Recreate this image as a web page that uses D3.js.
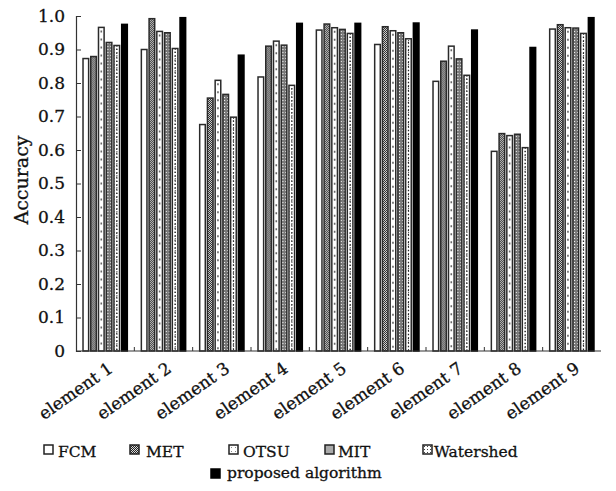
<!DOCTYPE html>
<html><head><meta charset="utf-8">
<script src="https://cdn.jsdelivr.net/npm/d3@7/dist/d3.min.js"></script>
<style>
body{margin:0;background:#fff;}
text{font-family:"DejaVu Serif",serif;fill:#111;stroke:#111;stroke-width:0.3px;}
</style></head>
<body><svg id="c" width="616" height="491"></svg>
<script>
const categories = ["element 1","element 2","element 3","element 4","element 5","element 6","element 7","element 8","element 9"];
const seriesNames = ["FCM","MET","OTSU","MIT","Watershed","proposed algorithm"];
const FCM       = [0.873,0.900,0.676,0.818,0.958,0.915,0.805,0.596,0.961];
const MET       = [0.879,0.992,0.755,0.910,0.976,0.968,0.865,0.649,0.974];
const OTSU      = [0.966,0.954,0.808,0.925,0.965,0.956,0.910,0.643,0.965];
const MIT       = [0.921,0.950,0.766,0.913,0.960,0.950,0.872,0.647,0.964];
const Watershed = [0.912,0.903,0.698,0.793,0.948,0.932,0.823,0.607,0.948];
const Proposed  = [0.975,0.995,0.883,0.978,0.978,0.979,0.958,0.906,0.995];
const yTicks = [0,0.1,0.2,0.3,0.4,0.5,0.6,0.7,0.8,0.9,1.0];
const seriesValues = [FCM,MET,OTSU,MIT,Watershed,Proposed];

const svg = d3.select("#c");
const defs = svg.append("defs");
const pMet = defs.append("pattern").attr("id","pMet").attr("patternUnits","userSpaceOnUse").attr("width",2).attr("height",2);
pMet.append("rect").attr("width",2).attr("height",2).attr("fill","#ddd");
pMet.append("rect").attr("width",1).attr("height",1).attr("fill","#222");
pMet.append("rect").attr("x",1).attr("y",1).attr("width",1).attr("height",1).attr("fill","#222");
const pMit = defs.append("pattern").attr("id","pMit").attr("patternUnits","userSpaceOnUse").attr("width",3).attr("height",3);
pMit.append("rect").attr("width",3).attr("height",3).attr("fill","#7a7a7a");
pMit.append("rect").attr("x",1).attr("y",1).attr("width",1).attr("height",1).attr("fill","#fff");
const pWs = defs.append("pattern").attr("id","pWs").attr("patternUnits","userSpaceOnUse").attr("width",3).attr("height",3);
pWs.append("rect").attr("width",3).attr("height",3).attr("fill","#fff");
pWs.append("rect").attr("x",1).attr("y",1).attr("width",1).attr("height",1).attr("fill","#444");
const pOt = defs.append("pattern").attr("id","pOt").attr("patternUnits","userSpaceOnUse").attr("width",4).attr("height",4);
pOt.append("rect").attr("width",4).attr("height",4).attr("fill","#fff");
pOt.append("rect").attr("x",2).attr("y",2).attr("width",1).attr("height",1).attr("fill","#888");

const fills = ["#fff","url(#pMet)","#fff","url(#pMit)","url(#pWs)","#000"];
const legendFills = ["#fff","url(#pMet)","url(#pOt)","#aaa","url(#pWs)","#000"];

const mLeft = 76, mRight = 601, mTop = 16, mBottom = 351;
const y = d3.scaleLinear().domain([0,1]).range([mBottom, mTop]);
const x0 = d3.scaleBand().domain(categories).range([mLeft,mRight]).paddingInner(0.22).paddingOuter(0.11);
const x1 = d3.scaleBand().domain(seriesNames).range([0, x0.bandwidth()]).paddingInner(0.12);

const groups = svg.append("g").selectAll("g").data(categories).join("g")
  .attr("transform", d => `translate(${x0(d)},0)`);
groups.each(function(cat, ci){
  const g = d3.select(this);
  seriesNames.forEach((s, si) => {
    const v = seriesValues[si][ci];
    const bx = x1(s), bw = x1.bandwidth();
    g.append("rect").attr("x", bx+0.6).attr("y", y(v)).attr("width", bw-1.2).attr("height", mBottom - y(v))
      .attr("fill", fills[si]).attr("stroke", si===5 ? "#000" : "#2a2a2a").attr("stroke-width", 1.5);
    if (si===2 || si===4) {
      g.append("line").attr("x1", bx+bw/2).attr("x2", bx+bw/2).attr("y1", y(v)+3).attr("y2", mBottom)
        .attr("stroke", si===2 ? "#666" : "#222").attr("stroke-width", si===2?1.6:1.2)
        .attr("stroke-dasharray", si===2 ? "2,6" : "1.5,2.5");
    }
  });
});

const yAxis = d3.axisLeft(y).tickValues(yTicks).tickSize(-5).tickPadding(11)
  .tickFormat(d => d===0 ? "0" : d3.format(".1f")(d));
const ga = svg.append("g").attr("transform",`translate(${mLeft},0)`).call(yAxis);
ga.select(".domain").attr("stroke","#333").attr("stroke-width",1.2);
ga.selectAll(".tick line").attr("stroke","#333");
ga.selectAll(".tick text").attr("font-size",17).attr("font-family","DejaVu Serif").attr("fill","#111");

const boundaries = d3.range(1, categories.length).map(i => x0(categories[i]) - x0.step()*x0.paddingInner()/2);
svg.append("line").attr("x1",mLeft).attr("x2",mRight).attr("y1",mBottom).attr("y2",mBottom).attr("stroke","#333").attr("stroke-width",1.2);
svg.append("g").selectAll("line").data(boundaries).join("line")
  .attr("x1",d=>d).attr("x2",d=>d).attr("y1",mBottom).attr("y2",mBottom-4).attr("stroke","#333");
svg.append("g").selectAll("text").data(categories).join("text")
  .attr("text-anchor","end").attr("font-size",17)
  .attr("transform", d => `translate(${x0(d)+x0.bandwidth()/2+9},${mBottom+20}) rotate(-35)`)
  .text(d => d);

svg.append("text").attr("transform","translate(28,180) rotate(-90)").attr("text-anchor","middle")
  .attr("font-size",19).text("Accuracy");

const legX = [44,130,229,325,423,211];
const legY = [445,445,445,445,445,469];
const legTx = [14,16,14,13,11,16];
const leg = svg.append("g").selectAll("g").data(seriesNames).join("g")
  .attr("transform",(d,i)=>`translate(${legX[i]},${legY[i]})`);
leg.append("rect").attr("width",9).attr("height",9).attr("fill",(d,i)=>legendFills[i])
  .attr("stroke",(d,i)=> i===5?"#000":"#222").attr("stroke-width",1.5);
leg.append("text").attr("x",(d,i)=> legTx[i]).attr("y",(d,i)=> i===5?9:12).attr("font-size",15.5).text(d=>d);
</script></body></html>
